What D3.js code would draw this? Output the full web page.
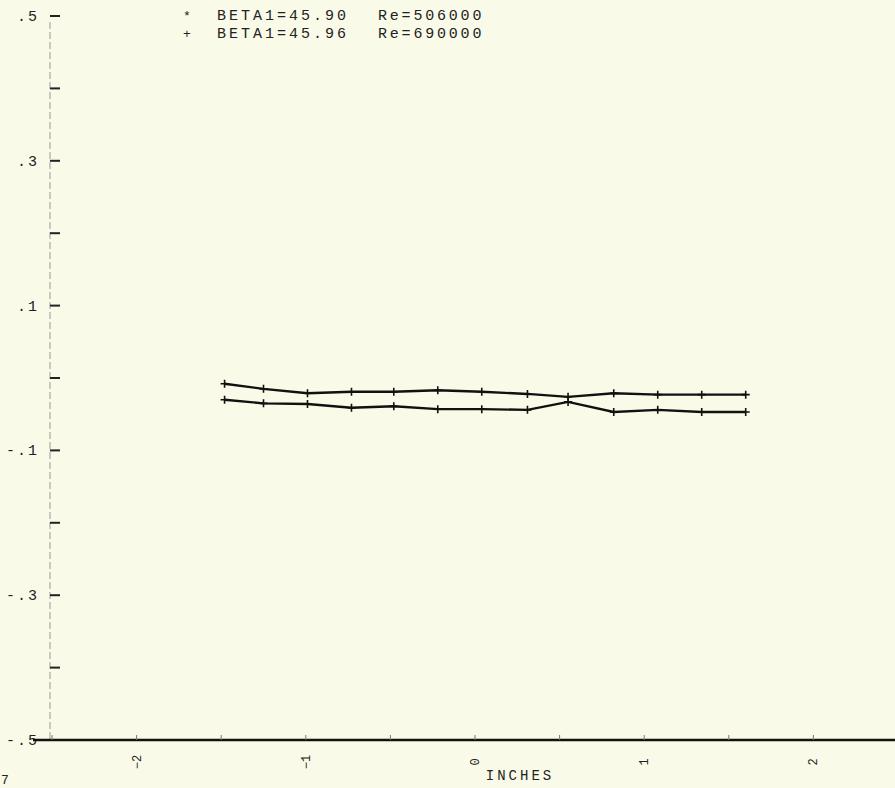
<!DOCTYPE html>
<html>
<head>
<meta charset="utf-8">
<script src="https://cdn.jsdelivr.net/npm/d3@7"></script>
<style>
  html, body { margin: 0; padding: 0; background: #fafae8; }
  svg { display: block; }
  text { font-family: "Liberation Mono", "DejaVu Sans Mono", monospace; fill: #222; }
</style>
</head>
<body>
<script>
// ---- data ----
const xInches = [-1.48, -1.25, -0.99, -0.73, -0.48, -0.22, 0.04, 0.31, 0.55, 0.82, 1.08, 1.34, 1.60];
const seriesA = [-0.008, -0.015, -0.021, -0.019, -0.019, -0.017, -0.019, -0.022, -0.026, -0.021, -0.023, -0.023, -0.023];
const seriesB = [-0.030, -0.035, -0.036, -0.041, -0.039, -0.043, -0.043, -0.044, -0.033, -0.047, -0.044, -0.047, -0.047];
const seriesSymbols = ["*", "+"];
const legendBeta = ["BETA1=45.90", "BETA1=45.96"];
const legendRe = ["Re=506000", "Re=690000"];
const yTickValues = [0.5, 0.4, 0.3, 0.2, 0.1, 0.0, -0.1, -0.2, -0.3, -0.4, -0.5];
const yTickLabels = { "0.5": ".5", "0.3": ".3", "0.1": ".1", "-0.1": "-.1", "-0.3": "-.3", "-0.5": "-.5" };
const xTickValues = [-2, -1, 0, 1, 2];
const xMinorTicks = [-2.5, -2, -1.5, -1, -0.5, 0, 0.5, 1, 1.5, 2];
const xTitle = "INCHES";

// ---- layout ----
const W = 895, H = 788;
const svg = d3.select("body").append("svg").attr("width", W).attr("height", H);
svg.append("rect").attr("width", W).attr("height", H).attr("fill", "#fafae8");

const x = d3.scaleLinear().domain([-2.5, 2.5]).range([52, 898]);
const y = d3.scaleLinear().domain([-0.5, 0.5]).range([740, 16]);
const axisX = 50;

// y axis (faint dashed line)
svg.append("line")
  .attr("x1", axisX).attr("x2", axisX)
  .attr("y1", y(0.5) + 6).attr("y2", y(-0.5))
  .attr("stroke", "#999").attr("stroke-width", 1)
  .attr("stroke-dasharray", "7,3");

// y ticks
const yAxisG = svg.append("g");
yAxisG.selectAll("line.tick").data(yTickValues).enter().append("line")
  .attr("x1", axisX).attr("x2", axisX + 10)
  .attr("y1", d => y(d)).attr("y2", d => y(d))
  .attr("stroke", "#222").attr("stroke-width", 2);
yAxisG.selectAll("text").data(yTickValues.filter(d => yTickLabels[String(d)] !== undefined)).enter().append("text")
  .attr("x", 39).attr("y", d => y(d) + 5)
  .attr("text-anchor", "end")
  .attr("font-size", 15)
  .attr("letter-spacing", 2)
  .text(d => yTickLabels[String(d)]);

// x axis line at bottom
svg.append("line")
  .attr("x1", 33).attr("x2", W)
  .attr("y1", y(-0.5)).attr("y2", y(-0.5))
  .attr("stroke", "#111").attr("stroke-width", 2.5);
svg.selectAll("line.xminor").data(xMinorTicks).enter().append("line")
  .attr("x1", d => x(d)).attr("x2", d => x(d))
  .attr("y1", y(-0.5)).attr("y2", y(-0.5) - 5)
  .attr("stroke", "#777").attr("stroke-width", 1);

// x tick labels (rotated, plotter style)
svg.selectAll("text.xlab").data(xTickValues).enter().append("text")
  .attr("transform", d => `translate(${x(d) + 4},${762}) rotate(-90)`)
  .attr("text-anchor", "middle")
  .attr("font-size", 12)
  .text(d => d3.format("d")(d));

svg.append("text")
  .attr("x", 520).attr("y", 780)
  .attr("text-anchor", "middle")
  .attr("font-size", 14)
  .attr("letter-spacing", 3)
  .attr("fill", "#444")
  .text(xTitle);

// page artifact
svg.append("text").attr("x", 1).attr("y", 784).attr("font-size", 13).text("7");

// ---- series ----
const line = d3.line().x(d => x(d[0])).y(d => y(d[1]));
[seriesA, seriesB].forEach((vals, i) => {
  const pts = xInches.map((xi, j) => [xi, vals[j]]);
  svg.append("path").datum(pts)
    .attr("d", line)
    .attr("fill", "none")
    .attr("stroke", "#111")
    .attr("stroke-width", 2.4);
  const g = svg.append("g");
  g.selectAll("path.m").data(pts).enter().append("path")
    .attr("d", d => {
      const cx = x(d[0]), cy = y(d[1]);
      return `M${cx - 4},${cy}L${cx + 4},${cy}M${cx},${cy - 4}L${cx},${cy + 4}`;
    })
    .attr("stroke", "#111").attr("stroke-width", 1.6);
});

// ---- legend ----
const leg = svg.append("g");
legendBeta.forEach((lab, i) => {
  const ly = 20 + i * 18;
  leg.append("text").attr("x", 187).attr("y", ly).attr("text-anchor", "middle")
    .attr("font-size", 13).text(seriesSymbols[i]);
  leg.append("text").attr("x", 217).attr("y", ly)
    .attr("font-size", 15).attr("letter-spacing", 3)
    .text(lab);
  leg.append("text").attr("x", 378).attr("y", ly)
    .attr("font-size", 15).attr("letter-spacing", 2.8)
    .attr("fill", "#444")
    .text(legendRe[i]);
});
</script>
</body>
</html>
